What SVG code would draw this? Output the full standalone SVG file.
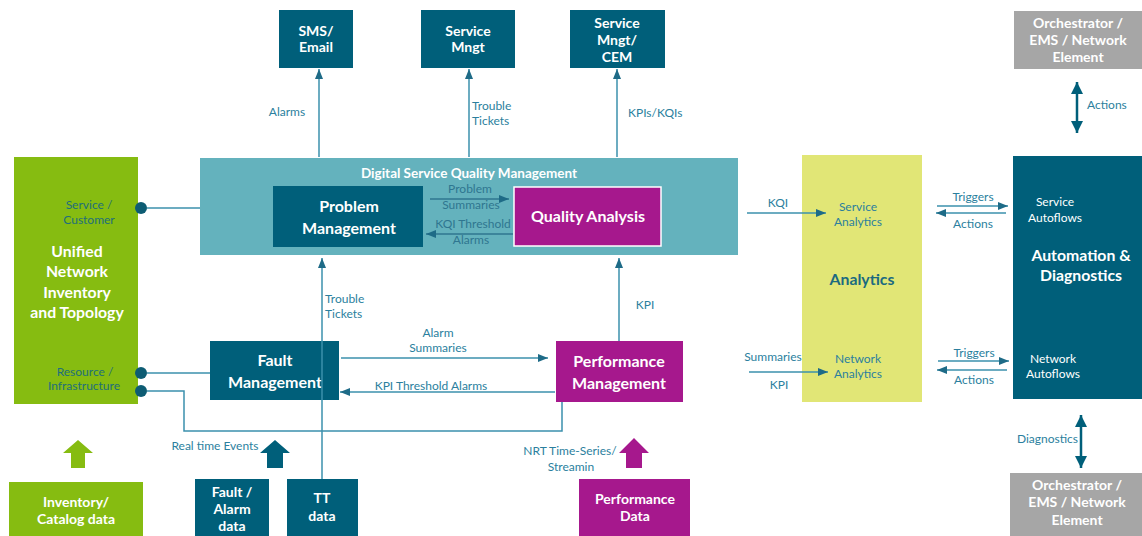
<svg xmlns="http://www.w3.org/2000/svg" width="1142" height="536" viewBox="0 0 1142 536">
<style>
.t{font-family:Lato,"Open Sans",sans-serif;font-weight:bold;fill:#fff;text-anchor:middle}
.s13{font-size:14px}
.s14{font-size:16px}
.s15{font-size:15.8px}
.lbl{font-family:Lato,"Open Sans",sans-serif;font-size:12px;fill:#2b7f9e}
.mid{text-anchor:middle}
.in{fill:#2f7690}
.dk{fill:#1f6f7a}
.wt{fill:#fff}
.teal{fill:#005f7a}
.mag{fill:#a6188d}
.grn{fill:#86bc11}
.gry{fill:#a6a6a6}
.con{fill:none;stroke:#3b90ad;stroke-width:1.5}
.dbl{fill:none;stroke:#005f7a;stroke-width:2.5}
</style>
<defs>
<marker id="ah" markerUnits="userSpaceOnUse" markerWidth="10" markerHeight="8" refX="10" refY="4" orient="auto">
<path d="M0,0 L10,4 L0,8 z" fill="#1e6b87"/>
</marker>
<marker id="dh" markerUnits="userSpaceOnUse" markerWidth="13" markerHeight="12" refX="12" refY="6" orient="auto-start-reverse">
<path d="M0,0 L12,6 L0,12 z" fill="#005f7a"/>
</marker>
</defs>

<g id="dsqm">
<rect x="200" y="158" width="538" height="97" fill="#64b2bd"/>
<text class="t" x="469" y="178" style="font-size:13.5px">Digital Service Quality Management</text>
</g>
<g id="problem-management">
<rect x="273" y="186" width="150" height="61" class="teal"/>
<text class="t s14" x="349" y="212">Problem</text>
<text class="t s14" x="349" y="234">Management</text>
</g>
<g id="quality-analysis">
<rect x="514" y="187" width="147" height="59" class="mag" stroke="#fff" stroke-width="1.5"/>
<text class="t s14" x="588" y="222">Quality Analysis</text>
</g>

<g id="sms-email">
<rect x="279" y="10" width="74" height="58" class="teal"/>
<text class="t s13" x="316" y="36">SMS/</text>
<text class="t s13" x="316" y="52">Email</text>
</g>
<g id="service-mngt">
<rect x="421" y="10" width="94" height="58" class="teal"/>
<text class="t s13" x="468" y="36">Service</text>
<text class="t s13" x="468" y="52">Mngt</text>
</g>
<g id="service-mngt-cem">
<rect x="570" y="10" width="95" height="58" class="teal"/>
<text class="t s13" x="617" y="28">Service</text>
<text class="t s13" x="617" y="45">Mngt/</text>
<text class="t s13" x="617" y="62">CEM</text>
</g>

<g id="unified">
<rect x="14" y="157" width="124" height="247" class="grn"/>
<text class="lbl mid dk" x="89" y="209">Service /</text>
<text class="lbl mid dk" x="89" y="224">Customer</text>
<text class="t s15" x="77" y="257">Unified</text>
<text class="t s15" x="77" y="277">Network</text>
<text class="t s15" x="77" y="298">Inventory</text>
<text class="t s15" x="77" y="318">and Topology</text>
<text class="lbl mid dk" x="85" y="376">Resource /</text>
<text class="lbl mid dk" x="84" y="390">Infrastructure</text>
</g>

<g id="fault-management">
<rect x="210" y="341" width="129" height="59" class="teal"/>
<text class="t s14" x="275" y="366">Fault</text>
<text class="t s14" x="275" y="388">Management</text>
</g>
<g id="performance-management">
<rect x="556" y="341" width="127" height="61" class="mag"/>
<text class="t s14" x="619" y="367">Performance</text>
<text class="t s14" x="619" y="389">Management</text>
</g>

<g id="analytics">
<rect x="802" y="155" width="120" height="247" fill="#e1e676"/>
<text class="lbl mid" x="858" y="211">Service</text>
<text class="lbl mid" x="858" y="226">Analytics</text>
<text class="t s15" x="862" y="285" style="fill:#1b6a80">Analytics</text>
<text class="lbl mid" x="858" y="363">Network</text>
<text class="lbl mid" x="858" y="378">Analytics</text>
</g>

<g id="automation">
<rect x="1013" y="156" width="129" height="243" class="teal"/>
<text class="lbl mid wt" x="1055" y="206">Service</text>
<text class="lbl mid wt" x="1055" y="222">Autoflows</text>
<text class="t s15" x="1081" y="261">Automation &amp;</text>
<text class="t s15" x="1081" y="281">Diagnostics</text>
<text class="lbl mid wt" x="1053" y="363">Network</text>
<text class="lbl mid wt" x="1053" y="378">Autoflows</text>
</g>

<g id="orchestrator-top">
<rect x="1014" y="11" width="128" height="58" class="gry"/>
<text class="t s13" x="1078" y="28">Orchestrator /</text>
<text class="t s13" x="1078" y="45">EMS / Network</text>
<text class="t s13" x="1078" y="62">Element</text>
</g>
<g id="orchestrator-bottom">
<rect x="1010" y="473" width="132" height="63" class="gry"/>
<text class="t s13" x="1077" y="490">Orchestrator /</text>
<text class="t s13" x="1077" y="507">EMS / Network</text>
<text class="t s13" x="1077" y="525">Element</text>
</g>

<g id="inventory-data">
<rect x="9" y="482" width="134" height="60" class="grn"/>
<text class="t s13" x="76" y="507">Inventory/</text>
<text class="t s13" x="76" y="524">Catalog data</text>
</g>
<g id="fault-alarm-data">
<rect x="195" y="479" width="74" height="60" class="teal"/>
<text class="t s13" x="232" y="497">Fault /</text>
<text class="t s13" x="232" y="514">Alarm</text>
<text class="t s13" x="232" y="531">data</text>
</g>
<g id="tt-data">
<rect x="287" y="479" width="71" height="60" class="teal"/>
<text class="t s13" x="322" y="503">TT</text>
<text class="t s13" x="322" y="521">data</text>
</g>
<g id="performance-data">
<rect x="579" y="479" width="111" height="60" class="mag"/>
<text class="t s13" x="635" y="504">Performance</text>
<text class="t s13" x="635" y="521">Data</text>
</g>

<g id="connectors">
<path class="con" d="M319,157 V69" marker-end="url(#ah)"/>
<path class="con" d="M469,157 V69" marker-end="url(#ah)"/>
<path class="con" d="M617,157 V69" marker-end="url(#ah)"/>
<text class="lbl mid" x="287" y="116">Alarms</text>
<text class="lbl" x="472" y="110">Trouble</text>
<text class="lbl" x="472" y="125">Tickets</text>
<text class="lbl" x="628" y="117">KPIs/KQIs</text>
<path class="con" d="M430,199 H509" marker-end="url(#ah)" style="stroke:#2f7690"/>
<path class="con" d="M513,234 H426" marker-end="url(#ah)" style="stroke:#2f7690"/>
<text class="lbl mid in" x="470" y="193">Problem</text>
<text class="lbl mid in" x="471" y="209">Summaries</text>
<text class="lbl mid in" x="473" y="228">KQI Threshold</text>
<text class="lbl mid in" x="471" y="244">Alarms</text>
<circle cx="141" cy="208" r="6" fill="#0d5c73"/>
<circle cx="141" cy="373" r="6" fill="#0d5c73"/>
<circle cx="141" cy="391" r="6" fill="#0d5c73"/>
<path class="con" d="M147,208 H200"/>
<path class="con" d="M147,373 H210"/>
<path class="con" d="M147,391 H184 V431 H562 V402"/>
<path class="con" d="M322,479 V258" marker-end="url(#ah)"/>
<path class="con" d="M619,341 V258" marker-end="url(#ah)"/>
<text class="lbl" x="325" y="303">Trouble</text>
<text class="lbl" x="325" y="318">Tickets</text>
<text class="lbl mid" x="645" y="309">KPI</text>
<path class="con" d="M341,358 H548" marker-end="url(#ah)"/>
<path class="con" d="M555,392 H340" marker-end="url(#ah)"/>
<text class="lbl mid" x="438" y="337">Alarm</text>
<text class="lbl mid" x="438" y="352">Summaries</text>
<text class="lbl mid" x="431" y="390">KPI Threshold Alarms</text>
<path class="con" d="M747,213 H826" marker-end="url(#ah)"/>
<text class="lbl mid" x="778" y="207">KQI</text>
<path class="con" d="M749,372 H828" marker-end="url(#ah)"/>
<text class="lbl mid" x="773" y="361">Summaries</text>
<text class="lbl mid" x="779" y="389">KPI</text>
<path class="con" d="M937,206 H1008" marker-end="url(#ah)"/>
<path class="con" d="M1006,213 H936" marker-end="url(#ah)"/>
<text class="lbl mid" x="973" y="201">Triggers</text>
<text class="lbl mid" x="973" y="228">Actions</text>
<path class="con" d="M938,361 H1009" marker-end="url(#ah)"/>
<path class="con" d="M1007,370 H937" marker-end="url(#ah)"/>
<text class="lbl mid" x="974" y="357">Triggers</text>
<text class="lbl mid" x="974" y="384">Actions</text>
<path class="dbl" d="M1077,82 V133" marker-start="url(#dh)" marker-end="url(#dh)"/>
<text class="lbl" x="1087" y="109">Actions</text>
<path class="dbl" d="M1081,415 V468" marker-start="url(#dh)" marker-end="url(#dh)"/>
<text class="lbl" x="1078" y="443" text-anchor="end">Diagnostics</text>
<polygon points="78,440 93,453 85,453 85,468 71,468 71,453 63,453" class="grn"/>
<polygon points="275,440 290,453 283,453 283,468 267,468 267,453 260,453" class="teal"/>
<polygon points="634,438 649,453 642,453 642,468 626,468 626,453 619,453" class="mag"/>
<text class="lbl mid" x="215" y="450">Real time Events</text>
<text class="lbl mid" x="570" y="455">NRT Time-Series/</text>
<text class="lbl mid" x="571" y="471">Streamin</text>
</g>
</svg>
